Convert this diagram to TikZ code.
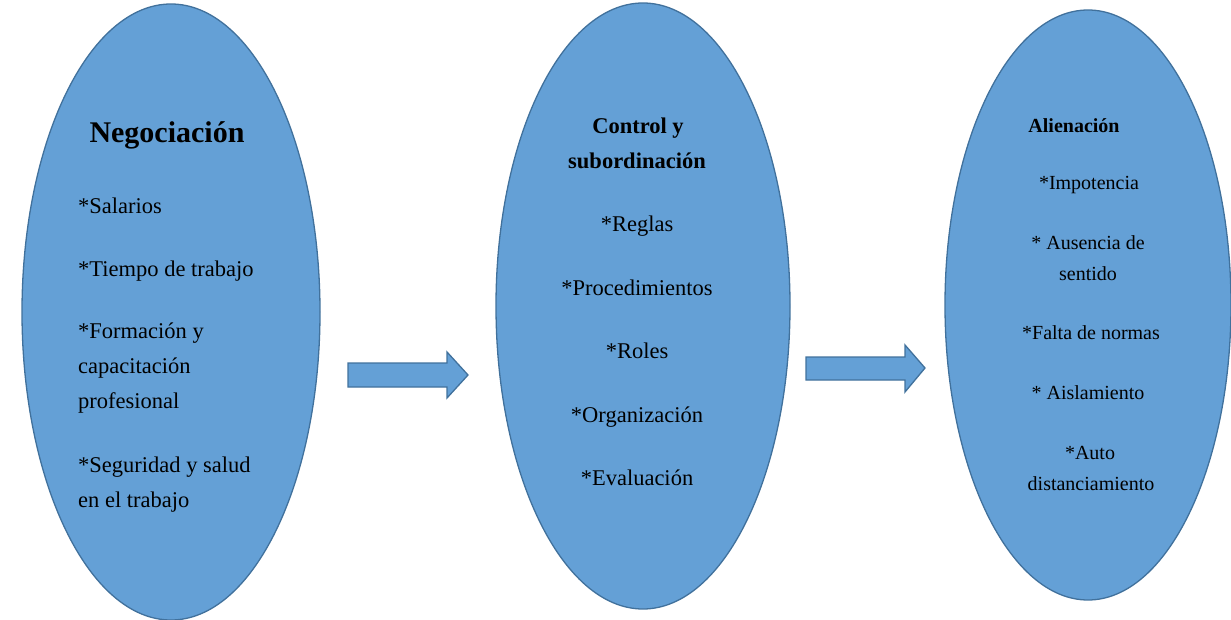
\documentclass[tikz,border=0pt]{standalone}
\usepackage{fontspec}
\setmainfont{Liberation Serif}
\definecolor{bfill}{RGB}{100,160,214}
\definecolor{bline}{RGB}{65,113,156}
\tikzset{
  oval/.style={fill=bfill, draw=bline, line width=1.3bp},
  blockarrow/.style={fill=bfill, draw=bline, line width=1.3bp, line join=miter},
  tA/.style={font=\fontsize{30bp}{36bp}\selectfont\bfseries, anchor=base, inner sep=0pt},
  tB/.style={font=\fontsize{22.5bp}{27bp}\selectfont\bfseries, anchor=base, inner sep=0pt},
  tC/.style={font=\fontsize{20bp}{24bp}\selectfont\bfseries, anchor=base, inner sep=0pt},
  iL/.style={font=\fontsize{22.5bp}{27bp}\selectfont, anchor=base west, inner sep=0pt},
  iM/.style={font=\fontsize{22.5bp}{27bp}\selectfont, anchor=base, inner sep=0pt},
  iS/.style={font=\fontsize{20bp}{24bp}\selectfont, anchor=base, inner sep=0pt},
}
\begin{document}
\begin{tikzpicture}[x=1bp,y=-1bp]
\useasboundingbox (0,0) rectangle (1231,620);
\begin{scope}
\clip (0,0) rectangle (1231,620);
\draw[oval] (171,312) ellipse [x radius=149, y radius=308];
\draw[oval] (643,306) ellipse [x radius=147, y radius=303];
\draw[oval] (1088,305) ellipse [x radius=143, y radius=295];
\end{scope}
% block arrows
\draw[blockarrow] (348,363) -- (447,363) -- (447,352) -- (468,375) -- (447,398) -- (447,387) -- (348,387) -- cycle;
\draw[blockarrow] (806,357) -- (905,357) -- (905,345) -- (925,368) -- (905,392) -- (905,380) -- (806,380) -- cycle;
% ellipse 1
\node[tA] (n1t) at (167,143) {Negociación};
\node[iL] (n1a) at (78,213.5) {*Salarios};
\node[iL] (n1b) at (78,276.5) {*Tiempo de trabajo};
\node[iL] (n1c) at (78,338.5) {*Formación y};
\node[iL] (n1d) at (78,373.5) {capacitación};
\node[iL] (n1e) at (78,408.5) {profesional};
\node[iL] (n1f) at (78,472.5) {*Seguridad y salud};
\node[iL] (n1g) at (78,507.5) {en el trabajo};
% ellipse 2
\node[tB] (n2t) at (638,133.5) {Control y};
\node[tB] (n2u) at (637,168.5) {subordinación};
\node[iM] (n2a) at (637,231.5) {*Reglas};
\node[iM] (n2b) at (637,295.5) {*Procedimientos};
\node[iM] (n2c) at (637,358.5) {*Roles};
\node[iM] (n2d) at (637,422.5) {*Organización};
\node[iM] (n2e) at (637,485.5) {*Evaluación};
% ellipse 3
\node[tC] (n3t) at (1074,132.5) {Alienación};
\node[iS] (n3a) at (1089,189.5) {*Impotencia};
\node[iS] (n3b) at (1088,249.5) {* Ausencia de};
\node[iS] (n3c) at (1088,280.5) {sentido};
\node[iS] (n3d) at (1091,339.5) {*Falta de normas};
\node[iS] (n3e) at (1088,399.5) {* Aislamiento};
\node[iS] (n3f) at (1090,459.5) {*Auto};
\node[iS] (n3g) at (1091,490.5) {distanciamiento};
\end{tikzpicture}
\end{document}
